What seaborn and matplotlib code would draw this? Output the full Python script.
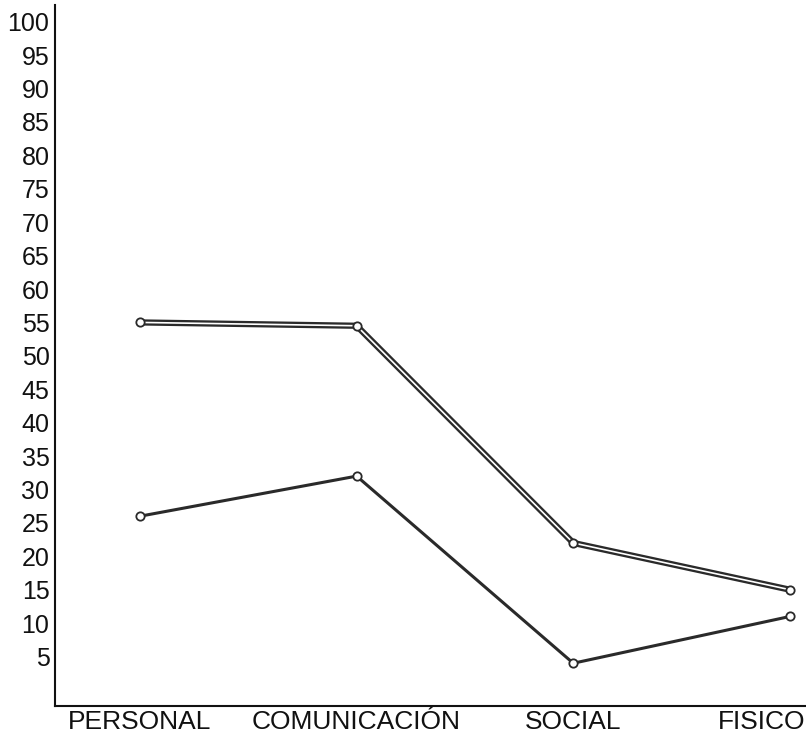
#!/usr/bin/env python3
"""
Line chart: scores per area, two series (scanned hand-drawn chart).
"""
import matplotlib
matplotlib.use('Agg')
import matplotlib.pyplot as plt
from matplotlib.transforms import ScaledTranslation
import seaborn as sns
import pandas as pd

areas = ['PERSONAL', 'COMUNICACIÓN', 'SOCIAL', 'FISICO']
upper_values = [55, 54.5, 22, 15]
lower_values = [26, 32, 4, 11]
y_ticks = list(range(5, 101, 5))

df = pd.DataFrame({
    'area': areas * 2,
    'value': upper_values + lower_values,
    'series': ['upper'] * len(areas) + ['lower'] * len(areas),
})

sns.set_theme(style='white')
plt.rcParams['font.family'] = ['Liberation Sans', 'DejaVu Sans']

fig = plt.figure(figsize=(8.06, 7.37), dpi=100)
ax = fig.add_axes([55 / 806, 1 - 706 / 737, 751 / 806, 701 / 737])

upper = df[df['series'] == 'upper']
lower = df[df['series'] == 'lower']

# upper series drawn as a double line: thick dark stroke with a thin white core
sns.lineplot(data=upper, x='area', y='value', ax=ax, color='#2a2a2a',
             linewidth=4.5, sort=False)
sns.lineplot(data=upper, x='area', y='value', ax=ax, color='white',
             linewidth=1.2, sort=False, marker='o', markersize=6,
             markerfacecolor='white', markeredgecolor='#2a2a2a',
             markeredgewidth=1.3)
sns.lineplot(data=lower, x='area', y='value', ax=ax, color='#2a2a2a',
             linewidth=2.2, sort=False, marker='o', markersize=6,
             markerfacecolor='white', markeredgecolor='#2a2a2a',
             markeredgewidth=1.3)

ax.set_xlim(-0.392, 3.074)
ax.set_ylim(-2.4, 102.5)
ax.set_yticks(y_ticks)
ax.set_yticklabels([str(t) for t in y_ticks])
ax.set_xlabel('')
ax.set_ylabel('')
ax.tick_params(axis='both', length=0, colors='#111111')
ax.tick_params(axis='y', pad=4, labelsize=18)
ax.tick_params(axis='x', pad=3, labelsize=19)

# last category label sits left of its point so it stays inside the figure
last = ax.get_xticklabels()[-1]
last.set_transform(last.get_transform() + ScaledTranslation(-28 / 100, 0, fig.dpi_scale_trans))

for side in ['top', 'right']:
    ax.spines[side].set_visible(False)
for side in ['left', 'bottom']:
    ax.spines[side].set_color('#111111')
    ax.spines[side].set_linewidth(1.5)

fig.savefig('out.png', dpi=100)
print("Plot saved to: out.png")
